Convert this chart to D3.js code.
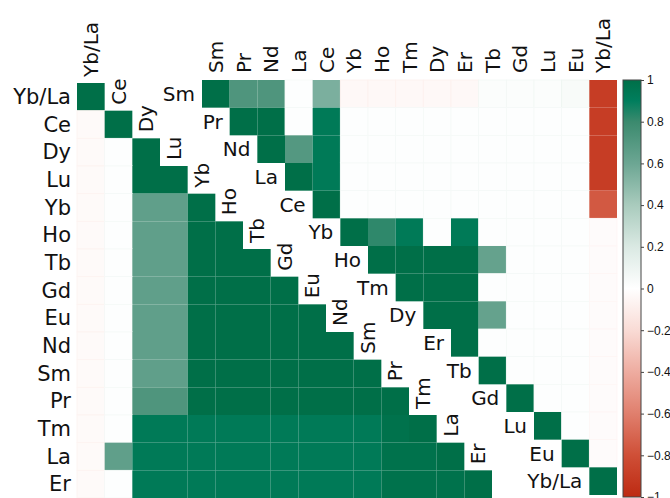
<!DOCTYPE html>
<html>
<head>
<meta charset="utf-8">
<script src="https://cdn.jsdelivr.net/npm/d3@7"></script>
<style>
  body { margin: 0; background: #fff; }
  svg { display: block; }
  text { font-family: "DejaVu Sans", Verdana, sans-serif; fill: #111; }
</style>
</head>
<body>
<div id="chart"></div>
<script>
// left matrix: lower triangle, row i holds columns 0..i
const leftLabels = ["Yb/La", "Ce", "Dy", "Lu", "Yb", "Ho", "Tb", "Gd", "Eu", "Nd", "Sm", "Pr", "Tm", "La", "Er"];
const leftValues = [
  [1],
  [-0.03, 1],
  [-0.03, 0.01, 1],
  [-0.03, 0.01, 1, 1],
  [-0.03, 0.01, 0.65, 0.65, 1],
  [-0.03, 0.01, 0.65, 0.65, 1, 1],
  [-0.03, 0.01, 0.65, 0.65, 1, 1, 1],
  [-0.03, 0.01, 0.65, 0.65, 1, 1, 1, 1],
  [-0.03, 0.01, 0.65, 0.65, 1, 1, 1, 1, 1],
  [-0.03, 0.01, 0.65, 0.65, 1, 1, 1, 1, 1, 1],
  [-0.03, 0.01, 0.65, 0.65, 1, 1, 1, 1, 1, 1, 1],
  [-0.03, 0.01, 0.72, 0.72, 1, 1, 1, 1, 1, 1, 1, 1],
  [-0.03, 0.01, 0.93, 0.93, 0.93, 0.93, 0.93, 0.93, 0.93, 0.93, 0.93, 0.98, 1],
  [-0.03, 0.65, 0.93, 0.93, 0.93, 0.93, 0.93, 0.93, 0.93, 0.93, 0.93, 0.98, 0.98, 1],
  [-0.03, 0.01, 0.93, 0.93, 0.93, 0.93, 0.93, 0.93, 0.93, 0.93, 0.93, 0.98, 0.98, 0.98, 1]
];

// right matrix: upper triangle, row i holds columns i..14
const rightLabels = ["Sm", "Pr", "Nd", "La", "Ce", "Yb", "Ho", "Tm", "Dy", "Er", "Tb", "Gd", "Lu", "Eu", "Yb/La"];
const rightValues = [
  [1, 0.72, 0.72, 0.01, 0.55, -0.04, -0.04, -0.04, -0.04, -0.04, 0.02, 0.02, 0.02, 0.04, -0.9],
  [1, 1, 0.01, 0.93, 0.01, 0.01, 0.01, 0.01, 0.01, 0.01, 0.01, 0.01, 0.01, -0.9],
  [1, 0.7, 0.93, 0.01, 0.01, 0.01, 0.01, 0.01, 0.01, 0.01, 0.01, 0.01, -0.9],
  [1, 0.93, 0.01, 0.01, 0.01, 0.01, 0.01, 0.01, 0.01, 0.01, 0.01, -0.9],
  [1, 0.01, 0.01, 0.01, 0.01, 0.01, 0.01, 0.01, 0.01, 0.01, -0.76],
  [1, 0.82, 0.93, 0.01, 0.93, 0.01, 0.01, 0.01, 0.01, -0.02],
  [1, 1, 1, 1, 0.63, 0.01, 0.01, 0.01, -0.02],
  [1, 1, 1, 0.01, 0.01, 0.01, 0.01, -0.02],
  [1, 1, 0.63, 0.01, 0.01, 0.01, -0.02],
  [1, 0.01, 0.01, 0.01, 0.01, -0.02],
  [1, 0.01, 0.01, 0.01, -0.02],
  [1, 0.01, 0.01, -0.02],
  [1, 0.01, -0.02],
  [1, -0.02],
  [1]
];

const colorTicks = [1, 0.8, 0.6, 0.4, 0.2, 0, -0.2, -0.4, -0.6, -0.8, -1];
const colorStops = [-1, -0.8, -0.6, -0.4, -0.2, 0, 0.2, 0.4, 0.6, 0.8, 0.9, 1];
const colorRange = ["#bd2a12", "#cf4f37", "#e07f6d", "#eeaca0", "#f9dbd5", "#ffffff",
                    "#dae9e3", "#a9cbbd", "#6ca693", "#3b8a6e", "#007e5d", "#006f48"];

const width = 670;
const height = 498;
const cell = 415 / 15;

const color = d3.scaleLinear().domain(colorStops).range(colorRange);

const svg = d3.select("#chart")
  .append("svg")
  .attr("width", width)
  .attr("height", height);

// faint grid only on near-zero cells
function gridStroke(v) {
  if (Math.abs(v) >= 0.1) return "none";
  const t = Math.max(-1, Math.min(1, v * 1.5 + (v < 0 ? -0.02 : 0.04)));
  return color(t);
}

// ---- left plot
const xL = d3.scaleBand().domain(leftLabels).range([77, 77 + 15 * cell]);
const yL = d3.scaleBand().domain(leftLabels).range([83, 83 + 15 * cell]);

const leftCells = [];
leftValues.forEach((row, i) => {
  row.forEach((v, j) => leftCells.push({ r: leftLabels[i], c: leftLabels[j], v: v }));
});

svg.append("g")
  .selectAll("rect")
  .data(leftCells)
  .join("rect")
  .attr("x", (d) => xL(d.c))
  .attr("y", (d) => yL(d.r))
  .attr("width", xL.bandwidth())
  .attr("height", yL.bandwidth())
  .attr("fill", (d) => color(d.v))
  .attr("stroke", (d) => gridStroke(d.v))
  .attr("stroke-width", 0.8);

// row labels
svg.append("g")
  .selectAll("text")
  .data(leftLabels)
  .join("text")
  .attr("x", 71)
  .attr("y", (d) => yL(d) + yL.bandwidth() / 2)
  .attr("text-anchor", "end")
  .attr("dominant-baseline", "central")
  .attr("font-size", 21)
  .text((d) => d);

// column labels along the diagonal
svg.append("g")
  .selectAll("text")
  .data(leftLabels)
  .join("text")
  .attr("transform", (d) => `translate(${xL(d) + xL.bandwidth() / 2}, ${yL(d) - 6}) rotate(-90)`)
  .attr("text-anchor", "start")
  .attr("dominant-baseline", "central")
  .attr("font-size", 20)
  .text((d) => d);

// ---- right plot
const xR = d3.scaleBand().domain(rightLabels).range([202, 202 + 15 * cell]);
const yR = d3.scaleBand().domain(rightLabels).range([80, 80 + 15 * cell]);

const rightCells = [];
rightValues.forEach((row, i) => {
  row.forEach((v, k) => rightCells.push({ r: rightLabels[i], c: rightLabels[i + k], v: v }));
});

svg.append("g")
  .selectAll("rect")
  .data(rightCells)
  .join("rect")
  .attr("x", (d) => xR(d.c))
  .attr("y", (d) => yR(d.r))
  .attr("width", xR.bandwidth())
  .attr("height", yR.bandwidth())
  .attr("fill", (d) => color(d.v))
  .attr("stroke", (d) => gridStroke(d.v))
  .attr("stroke-width", 0.8);

// top labels
svg.append("g")
  .selectAll("text")
  .data(rightLabels)
  .join("text")
  .attr("transform", (d) => `translate(${xR(d) + xR.bandwidth() / 2}, ${80 - 7}) rotate(-90)`)
  .attr("text-anchor", "start")
  .attr("dominant-baseline", "central")
  .attr("font-size", 20)
  .text((d) => d);

// diagonal row labels
svg.append("g")
  .selectAll("text")
  .data(rightLabels)
  .join("text")
  .attr("x", (d) => xR(d) - 7)
  .attr("y", (d) => yR(d) + yR.bandwidth() / 2)
  .attr("text-anchor", "end")
  .attr("dominant-baseline", "central")
  .attr("font-size", 20)
  .text((d) => d);

// ---- colorbar
const cbX = 623;
const cbW = 18;
const cbScale = d3.scaleLinear().domain([-1, 1]).range([497, 80]);

const grad = svg.append("defs")
  .append("linearGradient")
  .attr("id", "cbGrad")
  .attr("x1", 0).attr("y1", 1)
  .attr("x2", 0).attr("y2", 0);

grad.selectAll("stop")
  .data(colorStops)
  .join("stop")
  .attr("offset", (d) => (d + 1) / 2)
  .attr("stop-color", (d) => color(d));

svg.append("rect")
  .attr("x", cbX)
  .attr("y", cbScale(1))
  .attr("width", cbW)
  .attr("height", cbScale(-1) - cbScale(1))
  .attr("fill", "url(#cbGrad)")
  .attr("stroke", "#444")
  .attr("stroke-width", 1);

const cbAxis = d3.axisRight(cbScale)
  .tickValues(colorTicks)
  .tickFormat(d3.format("~g"))
  .tickSize(3)
  .tickPadding(3);

svg.append("g")
  .attr("transform", `translate(${cbX + cbW}, 0)`)
  .call(cbAxis)
  .call((g) => g.select(".domain").remove())
  .call((g) => g.selectAll("line").attr("stroke", "#444"))
  .call((g) => g.selectAll("text")
    .style("font-family", "'Liberation Sans', Arial, sans-serif")
    .style("font-size", "12px")
    .style("fill", "#111"));
</script>
</body>
</html>
